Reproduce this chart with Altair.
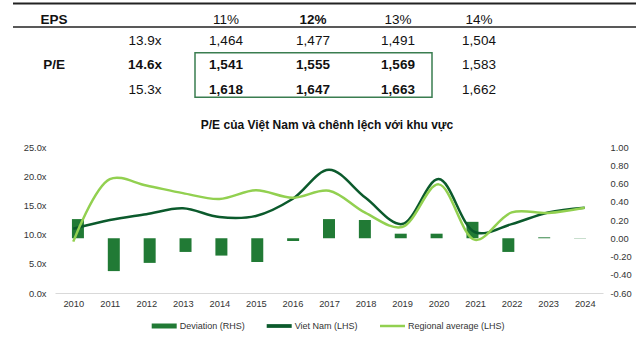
import altair as alt
import pandas as pd

# ---------------- data ----------------
years = list(range(2010, 2025))
viet_nam = [11.0, 12.5, 13.5, 14.5, 13.0, 13.2, 16.1, 21.1, 16.3, 11.8, 19.5, 10.4, 11.8, 13.8, 14.6]
regional = [8.8, 19.5, 18.4, 17.1, 16.1, 17.6, 16.3, 17.5, 13.7, 11.3, 18.6, 9.1, 13.8, 13.7, 14.6]
deviation = [0.21, -0.36, -0.27, -0.15, -0.19, -0.26, -0.03, 0.21, 0.20, 0.05, 0.05, 0.18, -0.15, 0.01, 0.003]

series_names = ["Deviation (RHS)", "Viet Nam (LHS)", "Regional average (LHS)"]
series_colors = ["#217a35", "#0b5a2c", "#92d050"]
series_widths = [5, 2.5, 2.5]

left_ticks = [0, 5, 10, 15, 20, 25]
right_ticks = [-0.6, -0.4, -0.2, 0.0, 0.2, 0.4, 0.6, 0.8, 1.0]

eps_headers = ["11%", "12%", "13%", "14%"]
pe_multiples = ["13.9x", "14.6x", "15.3x"]
price_grid = [
    [1464, 1477, 1491, 1504],
    [1541, 1555, 1569, 1583],
    [1618, 1647, 1663, 1662],
]
chart_title = "P/E của Việt Nam và chênh lệch với khu vực"

FONT = "Liberation Sans"
TFONT = "Liberation Sans Narrow, Arial Narrow, Liberation Sans"
TXT = "#111111"
AXT = "#333333"

# ---------------- tables ----------------
dev_df = pd.DataFrame({"year": years, "value": deviation, "series": series_names[0]})
line_df = pd.DataFrame({
    "year": years + years,
    "value": viet_nam + regional,
    "series": [series_names[1]] * len(years) + [series_names[2]] * len(years),
})
legend_df = pd.DataFrame({"idx": [0, 1, 2], "series": series_names})

cells = [{"col": 0, "row": 0, "text": "EPS", "bold": True},
         {"col": 0, "row": 2, "text": "P/E", "bold": True}]
for j, h in enumerate(eps_headers):
    cells.append({"col": j + 2, "row": 0, "text": h, "bold": h == "12%"})
for i, m in enumerate(pe_multiples):
    cells.append({"col": 1, "row": i + 1, "text": m, "bold": i == 1})
    for j, v in enumerate(price_grid[i]):
        cells.append({"col": j + 2, "row": i + 1, "text": f"{v:,}", "bold": i >= 1 and j < 3})
cell_df = pd.DataFrame(cells)
box_df = pd.DataFrame([{"c1": 2, "c2": 4, "r1": 2, "r2": 3}])
one = pd.DataFrame([{"k": 1}])

# ---------------- scales ----------------
year_scale = alt.Scale(domain=[2009.5, 2024.5], nice=False, zero=False)
col_scale = alt.Scale(domain=[0, 1, 2, 3, 4, 5], range=[-1, 90, 171, 258, 343, 424], nice=False, zero=False)
row_scale = alt.Scale(domain=[0, 1, 2, 3], range=[-123, -102.3, -78.3, -53], nice=False, zero=False)
legend_scale = alt.Scale(domain=[0, 1, 2], range=[96.7, 211.7, 325], nice=False, zero=False)
color = alt.Color("series:N", scale=alt.Scale(domain=series_names, range=series_colors), legend=None)

bars = alt.Chart(dev_df).mark_bar(size=12).encode(
    x=alt.X("year:Q", scale=year_scale, axis=None),
    y=alt.Y("value:Q", scale=alt.Scale(domain=[-0.6, 1.0], nice=False, zero=False),
            axis=alt.Axis(orient="right", values=right_ticks, title=None, ticks=False, domain=False,
                          grid=False, labelPadding=7, labelFont=FONT, labelFontSize=9.3,
                          labelColor=AXT, labelAlign="left",
                          labelExpr="replace(format(datum.value, '.2f'), '\u2212', '-')")),
    y2=alt.datum(0),
    color=color,
)

lines = alt.Chart(line_df).mark_line(interpolate="catmull-rom", strokeWidth=2.5).encode(
    x=alt.X("year:Q", scale=year_scale,
            axis=alt.Axis(values=years, format="d", title=None, ticks=False, grid=False,
                          domainColor="#d9d9d9", domainWidth=1, labelFont=FONT, labelFontSize=9.3,
                          labelColor=AXT, labelPadding=6, labelFlush=False)),
    y=alt.Y("value:Q", scale=alt.Scale(domain=[0, 25], nice=False),
            axis=alt.Axis(orient="left", values=left_ticks, title=None, ticks=False, domain=False,
                          grid=False, labelPadding=9, labelFont=FONT, labelFontSize=9.3,
                          labelColor=AXT, labelExpr="format(datum.value, '.1f') + 'x'")),
    color=color,
)

legend_sym = alt.Chart(legend_df).mark_rule(x2Offset=25).encode(
    x=alt.X("idx:Q", scale=legend_scale, axis=None),
    x2="idx:Q",
    y=alt.value(179),
    color=color,
    strokeWidth=alt.StrokeWidth("series:N", scale=alt.Scale(domain=series_names, range=series_widths), legend=None),
)
legend_txt = alt.Chart(legend_df).mark_text(
    dx=28, align="left", baseline="middle", font=FONT, fontSize=9, color=AXT,
).encode(
    x=alt.X("idx:Q", scale=legend_scale, axis=None),
    y=alt.value(179),
    text="series:N",
)

title_mark = alt.Chart(one).mark_text(
    text=chart_title, font=FONT, fontSize=12, fontWeight="bold", color=TXT,
    align="center", baseline="alphabetic",
).encode(x=alt.value(272), y=alt.value(-18))

top_rule = alt.Chart(one).mark_rule(color="#222222", strokeWidth=2).encode(
    x=alt.value(-42), x2=alt.value(581), y=alt.value(-143.5))
head_rule = alt.Chart(one).mark_rule(color="#222222", strokeWidth=1.3).encode(
    x=alt.value(-42), x2=alt.value(581), y=alt.value(-120))

box = alt.Chart(box_df).mark_rect(
    fill=None, stroke="#3a7d50", strokeWidth=1.5,
    xOffset=-31, x2Offset=34, yOffset=-16, y2Offset=3.3,
).encode(
    x=alt.X("c1:Q", scale=col_scale, axis=None), x2="c2:Q",
    y=alt.Y("r1:Q", scale=row_scale, axis=None), y2="r2:Q",
)

def table_text(bold):
    return alt.Chart(cell_df).transform_filter(
        alt.datum.bold if bold else ~alt.datum.bold
    ).mark_text(
        font=TFONT, fontSize=13.5, fontWeight="bold" if bold else "normal",
        color=TXT, align="center", baseline="alphabetic",
    ).encode(
        x=alt.X("col:Q", scale=col_scale, axis=None),
        y=alt.Y("row:Q", scale=row_scale, axis=None),
        text="text:N",
    )

chart = alt.layer(
    bars, lines, legend_sym, legend_txt, title_mark, top_rule, head_rule, box,
    table_text(False), table_text(True)
).resolve_scale(
    x="independent", y="independent"
).properties(
    width=548, height=146,
    padding={"left": 55, "top": 147, "right": 33, "bottom": 44},
    autosize=alt.AutoSizeParams(type="none"),
    background="white",
).configure_view(stroke=None)

chart.save("out.html", embed_options={"renderer": "svg", "actions": False})
